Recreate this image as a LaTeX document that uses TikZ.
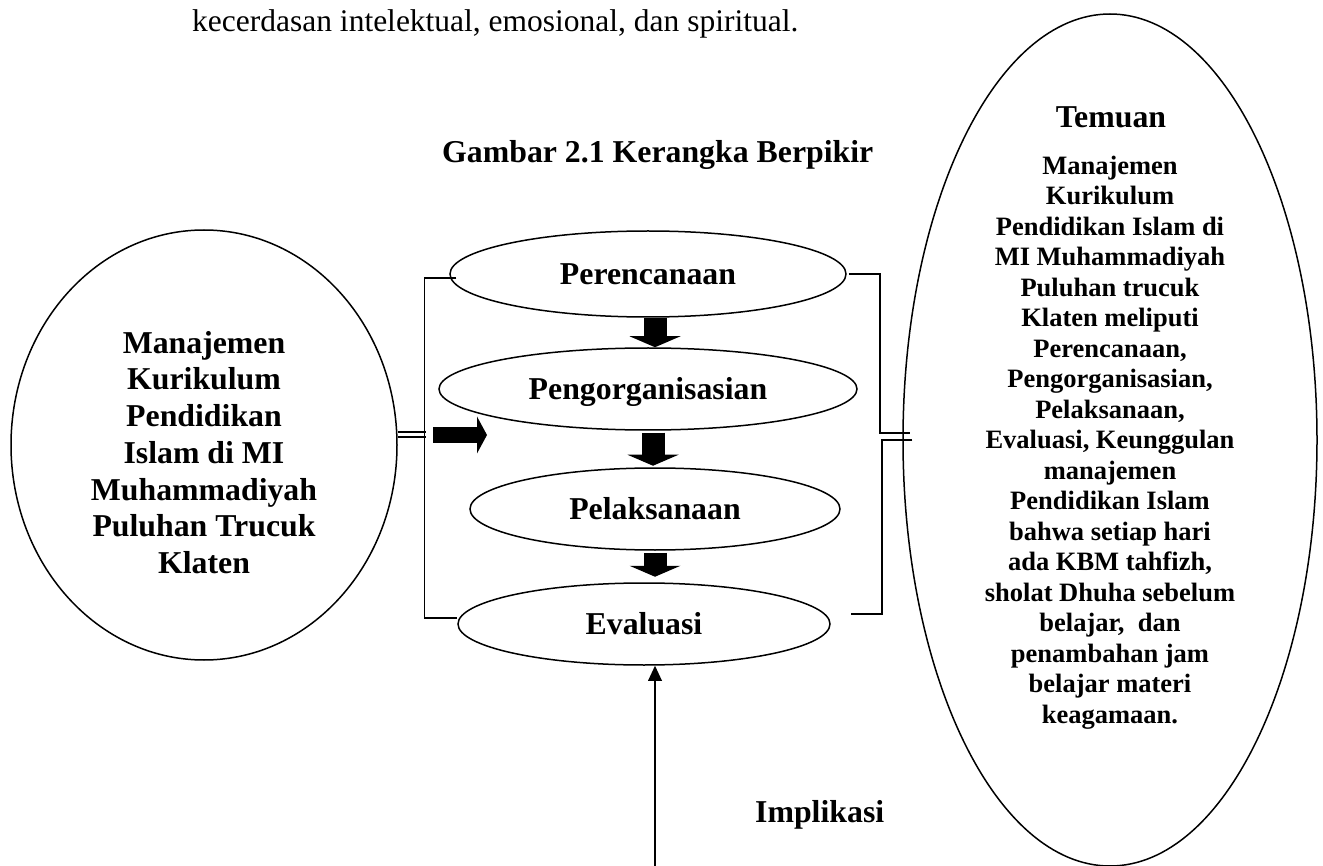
\documentclass[tikz,border=0pt]{standalone}
\usepackage{fontspec}
\setmainfont{Liberation Serif}
\usetikzlibrary{shapes.geometric,arrows.meta,calc}
\begin{document}
\begin{tikzpicture}[x=1pt,y=-1pt,
  ln/.style={line width=1.5pt},
  oval/.style={ellipse, draw, line width=1.5pt, inner sep=0pt,
    font=\bfseries\fontsize{31.8}{36}\selectfont, text height=21pt, text depth=0pt},
  bigoval/.style={ellipse, draw, line width=1.5pt, inner sep=0pt},
  bigtxt/.style={font=\bfseries\fontsize{31.8}{36.7}\selectfont, inner sep=0pt},
  smalltxt/.style={font=\bfseries\fontsize{26.5}{30.5}\selectfont, inner sep=0pt, align=center},
  blockdown/.style={line width=23pt, -{Triangle[length=11pt,width=51pt,line width=0pt]}},
  blockright/.style={line width=16pt, -{Triangle[length=10pt,width=37pt,line width=0pt]}},
  thinarrow/.style={line width=1.5pt, -{Triangle[length=15pt,width=14pt,line width=0pt]}}
]
\useasboundingbox (0,0) rectangle (1323,866);

% texts outside the diagram
\node[anchor=base west, inner sep=0pt, font=\fontsize{31.5}{36}\selectfont] (intro) at (192,32)
  {kecerdasan intelektual, emosional, dan spiritual.};
\node[anchor=base west, bigtxt] (title) at (442,163) {Gambar 2.1 Kerangka Berpikir};
\node[anchor=base west, bigtxt] (impl) at (755,822) {Implikasi};

% left circle
\node[bigoval, minimum width=386pt, minimum height=430pt] (L) at (204,445) {};
\node[bigtxt, anchor=north, align=center] (Ltxt) at (204,325)
  {\rule{0pt}{28pt}Manajemen\\Kurikulum\\Pendidikan\\Islam di MI\\Muhammadiyah\\Puluhan Trucuk\\Klaten};

% right ellipse
\node[bigoval, minimum width=414pt, minimum height=852pt] (R) at (1110,440) {};
\node[anchor=base, bigtxt] (Rhead) at (1111,128) {Temuan};
\node[smalltxt, anchor=north] (Rtxt) at (1110,150)
  {\rule{0pt}{24pt}Manajemen\\Kurikulum\\Pendidikan Islam di\\MI Muhammadiyah\\Puluhan trucuk\\Klaten meliputi\\Perencanaan,\\Pengorganisasian,\\Pelaksanaan,\\Evaluasi, Keunggulan\\manajemen\\Pendidikan Islam\\bahwa setiap hari\\ada KBM tahfizh,\\sholat Dhuha sebelum\\belajar, \ dan\\penambahan jam\\belajar materi\\keagamaan.};

% process ellipses
\node[oval, minimum width=396pt, minimum height=86pt] (p1) at (648,274) {Perencanaan};
\node[oval, minimum width=418pt, minimum height=82pt] (p2) at (648,389) {Pengorganisasian};
\node[oval, minimum width=370pt, minimum height=82pt] (p3) at (655,509) {Pelaksanaan};
\node[oval, minimum width=372pt, minimum height=82pt] (p4) at (644,624) {Evaluasi};

% block arrows between steps
\path (p1.south) ++(7,0) coordinate (a1);
\path (p2.south) ++(5,2) coordinate (a2);
\path (p3.south) ++(0,2) coordinate (a3);
\draw[blockdown] (a1) -- (a1 |- p2.north);
\draw[blockdown] (a2) -- ($(a2)+(0,33)$);
\draw[blockdown] (a3) -- ($(a3)+(0,24)$);

% right block arrow
\coordinate (rb1) at (433,435);
\coordinate (rb2) at (487,435);
\draw[blockright] (rb1) -- (rb2);

% left bracket
\draw[ln] ($(p1.west)+(7,4)$) -| ($(p4.west)+(-33,-6)$) -- ($(p4.west)+(0,-6)$);
\draw[ln] ($(L.east)+(0,-13)$) -- ($(L.east)+(28,-13)$);
\draw[ln] ($(L.east)+(0,-8)$) -- ($(L.east)+(28,-8)$);

% right brackets
\draw[ln] ($(p1.east)+(2,0)$) -| (880,433) -- ($(R.west)+(8,-7)$);
\draw[ln] ($(R.west)+(10,0)$) -| (882,614) -- ($(p4.east)+(20,-10)$);

% implication arrow
\coordinate (ib) at (655,866);
\draw[thinarrow] (ib) -- (ib |- p4.south);
\end{tikzpicture}
\end{document}
